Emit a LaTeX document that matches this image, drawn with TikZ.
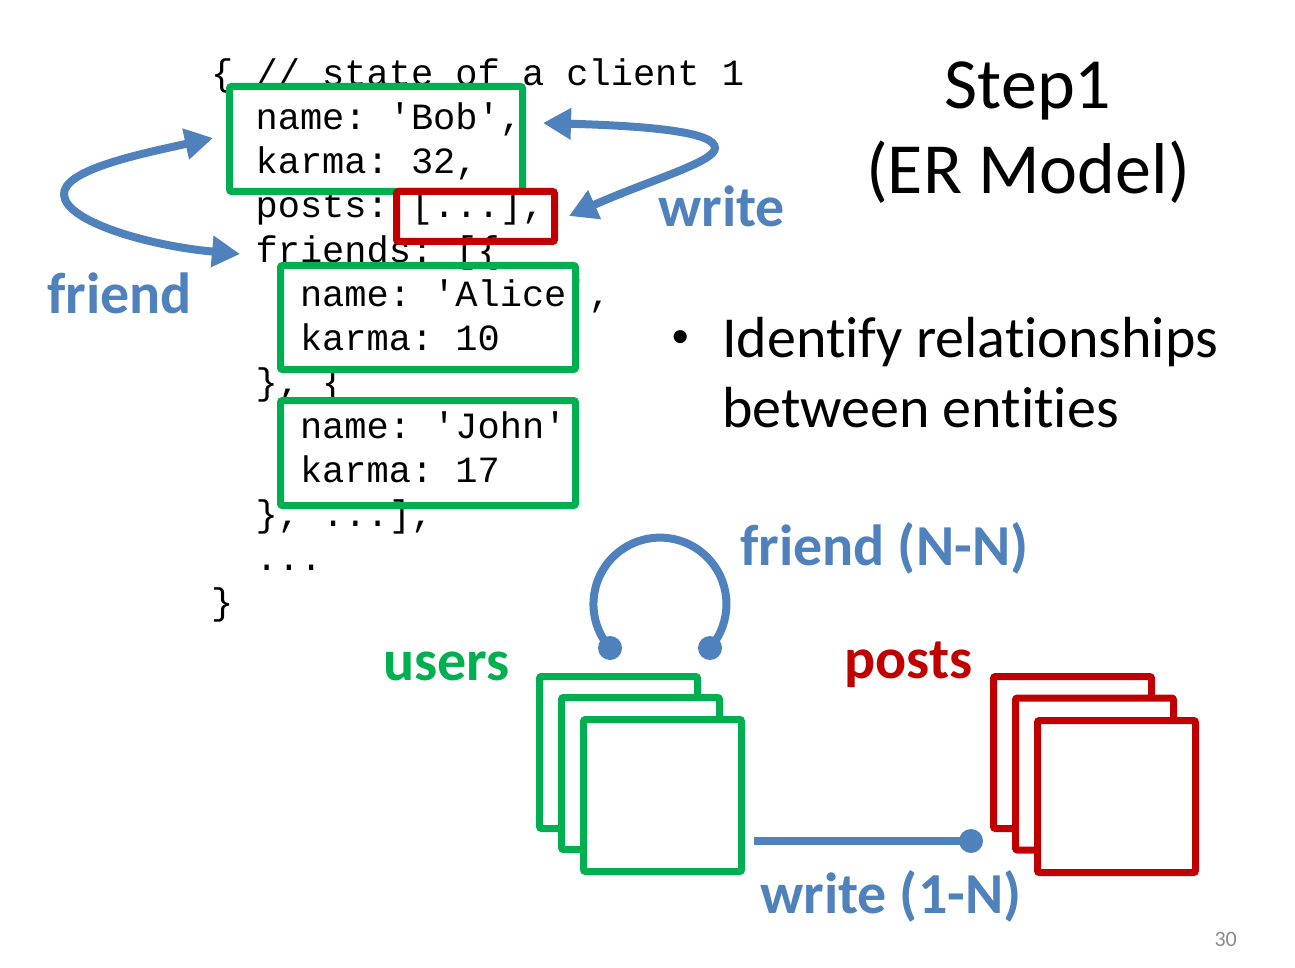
\documentclass[tikz,border=0pt]{standalone}
\usepackage{fontspec}
\setmainfont{Carlito}[Ligatures={TeX,NoCommon}]
\setmonofont{Liberation Mono}
\usetikzlibrary{arrows.meta}
\definecolor{ogreen}{RGB}{0,176,80}
\definecolor{ored}{RGB}{192,0,0}
\definecolor{oblue}{RGB}{79,129,189}
\definecolor{pgnum}{RGB}{137,137,137}
\begin{document}
\begin{tikzpicture}[x=1pt,y=-1pt,
  code/.style={anchor=base west,inner sep=0pt,font=\ttfamily\fontsize{37}{44}\selectfont},
  gbox/.style={draw=ogreen,line width=7pt,rounded corners=2pt,inner sep=0pt},
  rbox/.style={draw=ored,line width=7pt,rounded corners=2pt,inner sep=0pt},
  ent/.style={fill=white,line width=7pt,minimum width=158pt,minimum height=152pt,inner sep=0pt,rounded corners=2pt},
  lab/.style={anchor=base west,inner sep=0pt,font=\bfseries\fontsize{58}{70}\selectfont},
  big/.style={anchor=base,inner sep=0pt,font=\fontsize{72}{86}\selectfont},
  body/.style={anchor=base west,inner sep=0pt,font=\fontsize{58}{70}\selectfont},
  barrow/.style={draw=oblue,line width=8pt,{Triangle[length=28pt,width=30pt]}-{Triangle[length=28pt,width=30pt]}},
  reldot/.style={circle,fill=oblue,inner sep=0pt,minimum size=24pt},
  rel/.style={draw=oblue,line width=8pt},
]
\useasboundingbox (0,0) rectangle (1295,968);

% code
\node[code] (c0)  at (211,86)    {\{ // state of a client 1};
\node[code] (c1)  at (255.4,130) {name: 'Bob',};
\node[code] (c2)  at (255.4,174) {karma: 32,};
\node[code] (c3)  at (255.4,218) {posts: [...],};
\node[code] (c4)  at (255.4,262) {friends: [\{};
\node[code] (c5)  at (299.8,306) {name: 'Alice',};
\node[code] (c6)  at (299.8,350) {karma: 10};
\node[code] (c7)  at (255.4,394) {\}, \{};
\node[code] (c8)  at (299.8,438) {name: 'John'};
\node[code] (c9)  at (299.8,482) {karma: 17};
\node[code] (c10) at (255.4,526) {\}, ...],};
\node[code] (c11) at (255.4,570) {...};
\node[code] (c12) at (211,614)   {\}};

% highlight boxes
\node[gbox,minimum width=293pt,minimum height=105pt] (bob)   at (376,139) {};
\node[rbox,minimum width=158pt,minimum height=50pt]  (posts) at (475.5,216.5) {};
\node[gbox,minimum width=295pt,minimum height=104pt] (alice) at (428,317.5) {};
\node[gbox,minimum width=295pt,minimum height=105pt] (john)  at (428,453) {};

% friend arrow
\coordinate (ft1) at (213,138);
\coordinate (ft2) at (240,254);
\draw[barrow] (ft1) .. controls (140,154) and (62,170) .. (64,195)
                    .. controls (66,222) and (150,246) .. (ft2);
\node[lab,text=oblue] (friendlab) at (47,313) {friend};

% write arrow
\coordinate (wt1) at (543,123);
\coordinate (wt2) at (569,216);
\draw[barrow] (wt1) .. controls (650,126) and (715,132) .. (715,148)
                    .. controls (715,162) and (650,180) .. (wt2);
\node[lab,text=oblue] (writelab) at (658,227) {write};

% title
\node[big] (title1) at (1028,109) {Step1};
\node[big] (title2) at (1028,194) {(ER Model)};

% bullet
\node[anchor=base west,inner sep=0pt,font=\fontsize{37}{44}\selectfont] (bul) at (671,347) {•};
\node[body] (b1) at (722,357) {Identify relationships};
\node[body] (b2) at (722,427) {between entities};

% ER diagram
\node[lab,text=oblue] (fnn) at (740,565) {friend (N-N)};
\node[lab,text=ogreen] (userslab) at (383,680) {users};
\node[lab,text=ored] (postslab) at (844,678) {posts};
\node[lab,text=oblue] (w1n) at (760,913) {write (1-N)};

\node[ent,draw=ogreen] (u1) at (618.5,752.5) {};
\node[ent,draw=ogreen] (u2) at (640.5,773.5) {};
\node[ent,draw=ogreen] (u3) at (662.5,795.5) {};

\node[ent,draw=ored] (p1) at (1072.5,752.5) {};
\node[ent,draw=ored] (p2) at (1094.5,774) {};
\node[ent,draw=ored] (p3) at (1116.5,796.5) {};

\node[reldot] (fdl) at (610,648) {};
\node[reldot] (fdr) at (710,648) {};
\draw[rel] (fdl.center) arc[start angle=221.3,end angle=-41.3,radius=66.5pt];

\node[reldot] (wdot) at (971,841) {};
\coordinate (wstart) at (754,841);
\draw[rel] (wstart) -- (wdot.center);

\node[anchor=base east,inner sep=0pt,font=\fontsize{22}{26}\selectfont,text=pgnum] (pg) at (1237,946) {30};
\end{tikzpicture}
\end{document}
